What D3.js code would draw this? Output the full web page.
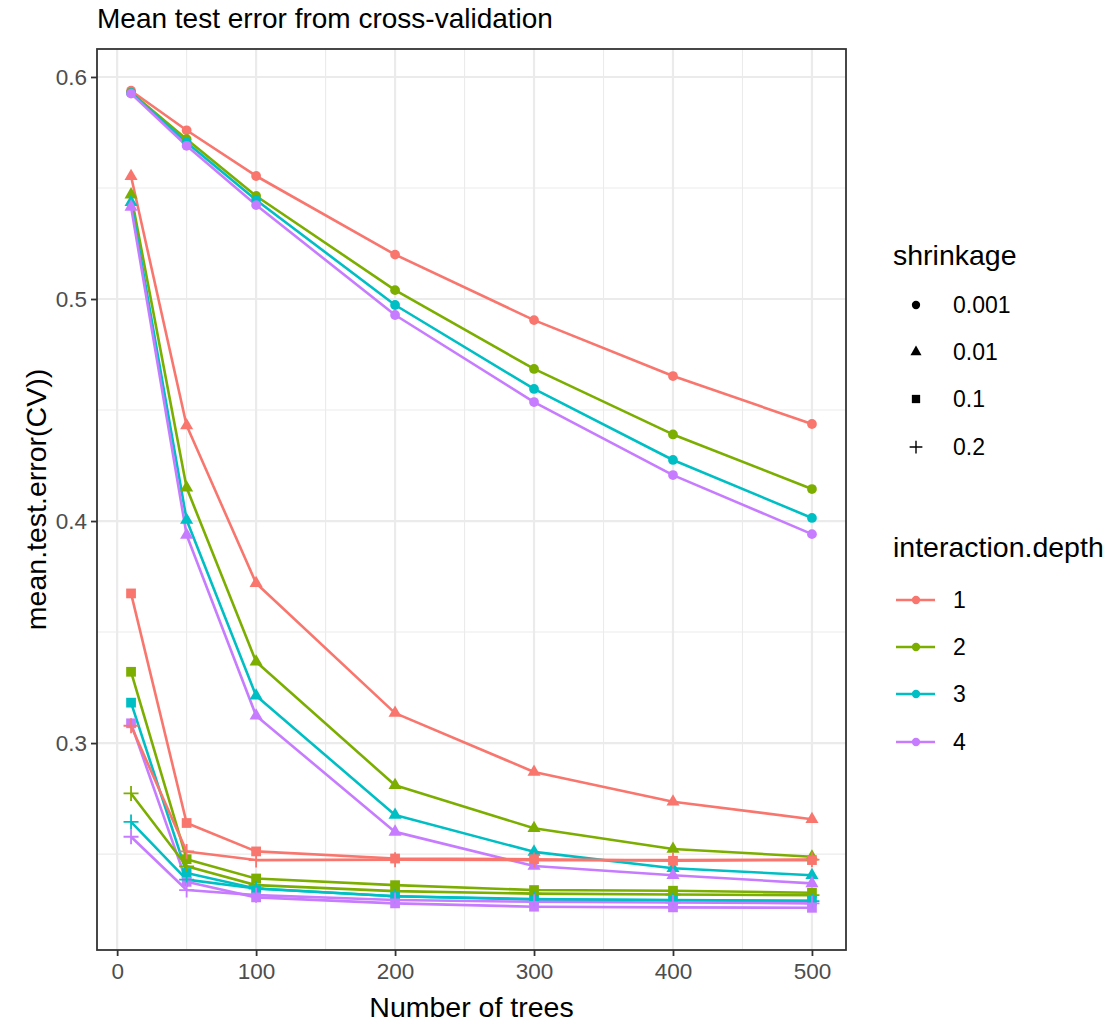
<!DOCTYPE html>
<html>
<head>
<meta charset="utf-8">
<script src="https://cdn.jsdelivr.net/npm/d3@7"></script>
<style>
  html, body { margin: 0; padding: 0; background: #fff; }
  svg { display: block; font-family: "Liberation Sans", Arial, sans-serif; }
</style>
</head>
<body>
<svg id="chart" width="1115" height="1025"></svg>
<script>
// Number of boosting iterations evaluated
const trees = [10, 50, 100, 200, 300, 400, 500];

// Factor levels
const depths = ["1", "2", "3", "4"];
const shrinkages = ["0.001", "0.01", "0.1", "0.2"];
const depthColors = ["#F8766D", "#7CAE00", "#00BFC4", "#C77CFF"];

// Mean cross-validated test error, one row per interaction depth (1..4)
const errShrink0001 = [
  [0.5938, 0.5760, 0.5554, 0.5200, 0.4905, 0.4653, 0.4437],
  [0.5930, 0.5720, 0.5464, 0.5040, 0.4685, 0.4390, 0.4144],
  [0.5928, 0.5705, 0.5446, 0.4973, 0.4595, 0.4275, 0.4014],
  [0.5925, 0.5690, 0.5423, 0.4928, 0.4536, 0.4207, 0.3941]
];
const errShrink001 = [
  [0.5553, 0.4430, 0.3720, 0.3135, 0.2870, 0.2736, 0.2657],
  [0.5470, 0.4150, 0.3366, 0.2810, 0.2616, 0.2523, 0.2488],
  [0.5436, 0.4005, 0.3213, 0.2676, 0.2510, 0.2436, 0.2405],
  [0.5415, 0.3937, 0.3123, 0.2600, 0.2446, 0.2405, 0.2368]
];
const errShrink01 = [
  [0.3674, 0.2640, 0.2512, 0.2480, 0.2477, 0.2470, 0.2473],
  [0.3321, 0.2477, 0.2390, 0.2360, 0.2338, 0.2335, 0.2326],
  [0.3182, 0.2415, 0.2345, 0.2310, 0.2295, 0.2293, 0.2290],
  [0.3089, 0.2375, 0.2305, 0.2278, 0.2263, 0.2260, 0.2258]
];
const errShrink02 = [
  [0.3078, 0.2512, 0.2473, 0.2475, 0.2473, 0.2473, 0.2475],
  [0.2773, 0.2445, 0.2360, 0.2333, 0.2322, 0.2318, 0.2315],
  [0.2645, 0.2385, 0.2345, 0.2310, 0.2298, 0.2292, 0.2288],
  [0.2578, 0.2338, 0.2315, 0.2293, 0.2285, 0.2282, 0.2278]
];

// Axis ticks
const xTicks = [0, 100, 200, 300, 400, 500];
const xMinor = [50, 150, 250, 350, 450];
const yTicks = [0.3, 0.4, 0.5, 0.6];
const yMinor = [0.25, 0.35, 0.45, 0.55];

const errBySeries = [errShrink0001, errShrink001, errShrink01, errShrink02];

// Long-format rows: one per (shrinkage, depth, trees)
const rows = [];
shrinkages.forEach((s, si) => {
  depths.forEach((d, di) => {
    trees.forEach((t, ti) => {
      rows.push({ shrinkage: s, depth: d, trees: t, err: errBySeries[si][di][ti] });
    });
  });
});

const panel = { left: 97, right: 846, top: 49, bottom: 950 };

const x = d3.scaleLinear().domain([-14.5, 524.5]).range([panel.left, panel.right]);
const y = d3.scaleLinear().domain([0.2068, 0.6126]).range([panel.bottom, panel.top]);
const color = d3.scaleOrdinal().domain(depths).range(depthColors);

// Marker shapes keyed by shrinkage level
const plusPath = r => `M${-r},0H${r}M0,${-r}V${r}`;
const shapeFor = {
  "0.001": { type: d3.symbolCircle, size: 75 },
  "0.01": { type: d3.symbolTriangle, size: 74 },
  "0.1": { type: d3.symbolSquare, size: 95 },
  "0.2": null
};
function markerPath(s, scale) {
  const sh = shapeFor[s];
  if (!sh) return plusPath(7.5 * scale);
  return d3.symbol().type(sh.type).size(sh.size * scale * scale)();
}

const svg = d3.select("#chart");

// Panel grid
const grid = svg.append("g");
grid.selectAll("line.xminor").data(xMinor).join("line")
  .attr("x1", d => x(d)).attr("x2", d => x(d))
  .attr("y1", panel.top).attr("y2", panel.bottom)
  .attr("stroke", "#ebebeb").attr("stroke-width", 1.1);
grid.selectAll("line.yminor").data(yMinor).join("line")
  .attr("x1", panel.left).attr("x2", panel.right)
  .attr("y1", d => y(d)).attr("y2", d => y(d))
  .attr("stroke", "#ebebeb").attr("stroke-width", 1.1);
grid.selectAll("line.xmajor").data(xTicks).join("line")
  .attr("x1", d => x(d)).attr("x2", d => x(d))
  .attr("y1", panel.top).attr("y2", panel.bottom)
  .attr("stroke", "#ebebeb").attr("stroke-width", 2.2);
grid.selectAll("line.ymajor").data(yTicks).join("line")
  .attr("x1", panel.left).attr("x2", panel.right)
  .attr("y1", d => y(d)).attr("y2", d => y(d))
  .attr("stroke", "#ebebeb").attr("stroke-width", 2.2);

// Lines: one per shrinkage x depth combination
const line = d3.line().x(d => x(d.trees)).y(d => y(d.err));
const groups = d3.groups(rows, d => d.shrinkage + "|" + d.depth);
const plot = svg.append("g");
plot.selectAll("path.series").data(groups).join("path")
  .attr("fill", "none")
  .attr("stroke", d => color(d[1][0].depth))
  .attr("stroke-width", 2.6)
  .attr("stroke-linejoin", "round")
  .attr("d", d => line(d[1]));

// Points
plot.selectAll("path.pt").data(rows).join("path")
  .attr("transform", d => `translate(${x(d.trees)},${y(d.err)})`)
  .attr("d", d => markerPath(d.shrinkage, 1))
  .attr("fill", d => shapeFor[d.shrinkage] ? color(d.depth) : "none")
  .attr("stroke", d => shapeFor[d.shrinkage] ? "none" : color(d.depth))
  .attr("stroke-width", 1.8);

// Panel border
svg.append("rect")
  .attr("x", panel.left).attr("y", panel.top)
  .attr("width", panel.right - panel.left).attr("height", panel.bottom - panel.top)
  .attr("fill", "none").attr("stroke", "#333333").attr("stroke-width", 1.8);

// Axes
const xAxis = d3.axisBottom(x).tickValues(xTicks).tickSize(6).tickPadding(7).tickFormat(d3.format("d"));
const gx = svg.append("g").attr("transform", `translate(0,${panel.bottom})`).call(xAxis);
const yAxis = d3.axisLeft(y).tickValues(yTicks).tickSize(6).tickPadding(4).tickFormat(d3.format(".1f"));
const gy = svg.append("g").attr("transform", `translate(${panel.left},0)`).call(yAxis);
[gx, gy].forEach(g => {
  g.select(".domain").remove();
  g.selectAll(".tick line").attr("stroke", "#333333").attr("stroke-width", 1.8);
  g.selectAll(".tick text").attr("fill", "#4d4d4d").style("font-size", "22.5px")
    .style("font-family", "'Liberation Sans', Arial, sans-serif");
});

// Titles
svg.append("text").attr("x", 97).attr("y", 28)
  .style("font-size", "28px").attr("fill", "#000")
  .text("Mean test error from cross-validation");
svg.append("text").attr("x", (panel.left + panel.right) / 2).attr("y", 1017)
  .attr("text-anchor", "middle").style("font-size", "28.5px").attr("fill", "#000")
  .text("Number of trees");
svg.append("text")
  .attr("transform", `translate(46,${(panel.top + panel.bottom) / 2}) rotate(-90)`)
  .attr("text-anchor", "middle").style("font-size", "28.5px").attr("fill", "#000")
  .text("mean.test.error(CV))");

// Legend: shrinkage (shape)
const leg1 = svg.append("g");
leg1.append("text").attr("x", 893).attr("y", 265).style("font-size", "28.5px").text("shrinkage");
const legY1 = [305, 352, 399, 447];
shrinkages.forEach((s, i) => {
  leg1.append("path")
    .attr("transform", `translate(916,${legY1[i]})`)
    .attr("d", markerPath(s, 0.85))
    .attr("fill", shapeFor[s] ? "#000" : "none")
    .attr("stroke", shapeFor[s] ? "none" : "#000")
    .attr("stroke-width", 1.4);
  leg1.append("text").attr("x", 953).attr("y", legY1[i]).attr("dy", "0.36em")
    .style("font-size", "23px").text(s);
});

// Legend: interaction.depth (colour)
const leg2 = svg.append("g");
leg2.append("text").attr("x", 893).attr("y", 557).style("font-size", "28.5px").text("interaction.depth");
const legY2 = [600, 647, 694, 742];
depths.forEach((d, i) => {
  leg2.append("line").attr("x1", 896).attr("x2", 935)
    .attr("y1", legY2[i]).attr("y2", legY2[i])
    .attr("stroke", color(d)).attr("stroke-width", 2.6);
  leg2.append("path").attr("transform", `translate(916,${legY2[i]})`)
    .attr("d", markerPath("0.001", 0.85)).attr("fill", color(d));
  leg2.append("text").attr("x", 953).attr("y", legY2[i]).attr("dy", "0.36em")
    .style("font-size", "23px").text(d);
});
</script>
</body>
</html>
